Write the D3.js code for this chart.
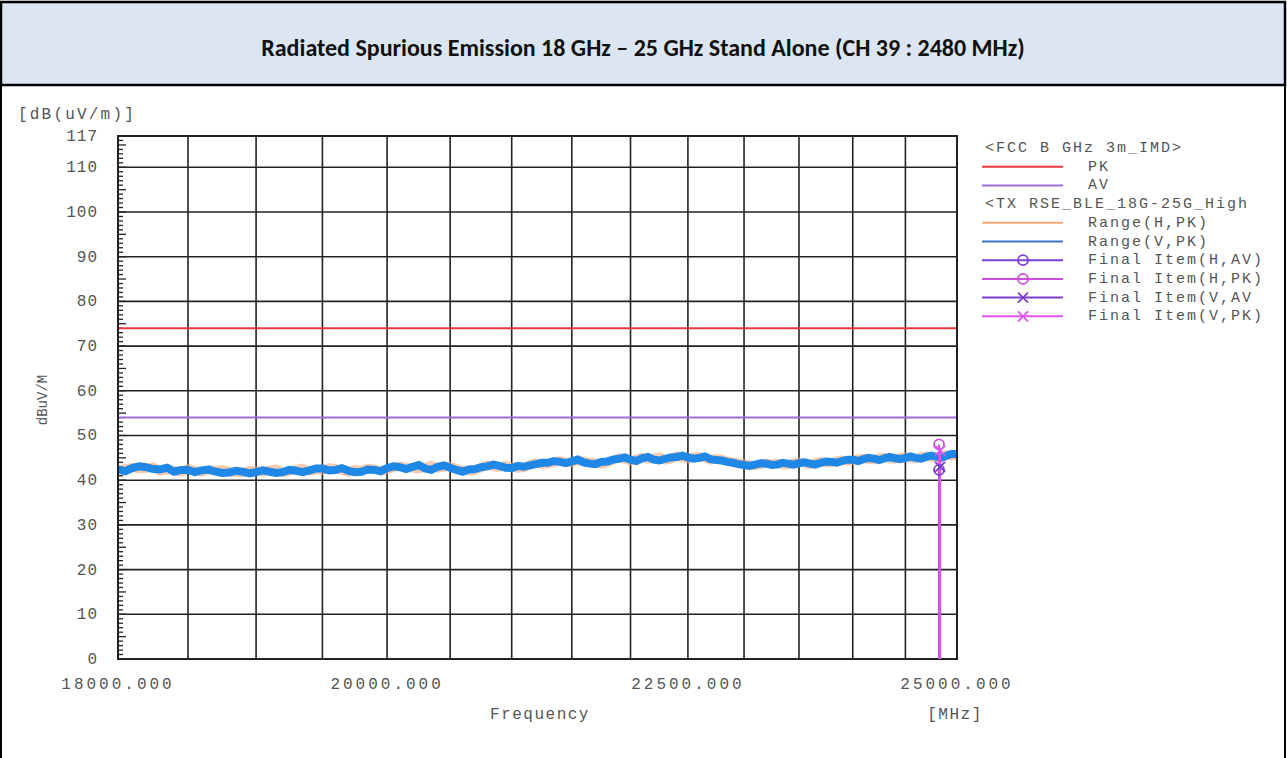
<!DOCTYPE html>
<meta charset="utf-8">
<style>
body { margin: 0; background: #fff; }
text { font-family: "Liberation Mono", "DejaVu Sans Mono", monospace; fill: #555; }
.title { font-family: Carlito, "Liberation Sans Narrow", "Open Sans", sans-serif; font-weight: bold; fill: #111; }
.grid line { stroke: #222; stroke-width: 1.6; }
</style>
<svg width="1287" height="758"></svg>
<script src="https://d3js.org/d3.v7.min.js"></script>
<script>

var titleText = "Radiated Spurious Emission 18 GHz \u2013 25 GHz Stand Alone (CH 39 : 2480 MHz)";

// limit lines (dBuV/m)
var limitNames = ["PK", "AV"];
var limitValues = [74, 54];

// x ticks / grid
var xLabelTicks = [18000, 20000, 22500, 25000];
var xGridTicks = [18500, 19000, 19500, 20000, 20500, 21000, 21500, 22000, 22500, 23000, 23500, 24000, 24500];
var yTicks = [0, 10, 20, 30, 40, 50, 60, 70, 80, 90, 100, 110, 117];

// scan traces, read every 50 MHz
var scanFreq = [18000, 18050, 18100, 18150, 18200, 18250, 18300, 18350, 18400, 18450,
  18500, 18550, 18600, 18650, 18700, 18750, 18800, 18850, 18900, 18950,
  19000, 19050, 19100, 19150, 19200, 19250, 19300, 19350, 19400, 19450,
  19500, 19550, 19600, 19650, 19700, 19750, 19800, 19850, 19900, 19950,
  20000, 20050, 20100, 20150, 20200, 20250, 20300, 20350, 20400, 20450,
  20500, 20550, 20600, 20650, 20700, 20750, 20800, 20850, 20900, 20950,
  21000, 21050, 21100, 21150, 21200, 21250, 21300, 21350, 21400, 21450,
  21500, 21550, 21600, 21650, 21700, 21750, 21800, 21850, 21900, 21950,
  22000, 22050, 22100, 22150, 22200, 22250, 22300, 22350, 22400, 22450,
  22500, 22550, 22600, 22650, 22700, 22750, 22800, 22850, 22900, 22950,
  23000, 23050, 23100, 23150, 23200, 23250, 23300, 23350, 23400, 23450,
  23500, 23550, 23600, 23650, 23700, 23750, 23800, 23850, 23900, 23950,
  24000, 24050, 24100, 24150, 24200, 24250, 24300, 24350, 24400, 24450,
  24500, 24550, 24600, 24650, 24700, 24750, 24800, 24850, 24900, 24950, 25000];
var rangeV = [42.4, 42.0, 42.7, 43.1, 42.9, 42.5, 42.4, 42.8, 41.9, 42.3,
  42.3, 41.8, 42.2, 42.4, 41.9, 41.6, 41.7, 42.1, 41.9, 41.5,
  41.8, 42.2, 41.9, 41.6, 41.8, 42.3, 42.1, 41.8, 42.2, 42.6,
  42.6, 42.2, 42.3, 42.7, 42.1, 41.8, 41.9, 42.4, 42.3, 42.0,
  42.7, 43.1, 42.9, 42.5, 43.0, 43.4, 42.6, 42.3, 43.0, 43.3,
  42.8, 42.3, 41.9, 42.4, 42.5, 42.9, 43.1, 43.5, 43.2, 42.8,
  42.7, 43.2, 43.0, 43.3, 43.6, 43.9, 43.9, 44.3, 44.1, 43.8,
  44.2, 44.6, 44.0, 43.7, 43.6, 44.1, 44.2, 44.6, 44.8, 45.1,
  44.6, 44.3, 44.9, 45.2, 44.6, 44.4, 44.8, 45.1, 45.2, 45.5,
  45.1, 44.8, 45.0, 45.3, 44.7, 44.5, 44.4, 44.1, 43.9, 43.6,
  43.4, 43.2, 43.5, 43.8, 43.7, 43.4, 43.5, 43.9, 43.7, 43.5,
  43.8, 44.0, 43.7, 43.5, 43.9, 44.2, 44.1, 43.9, 44.3, 44.6,
  44.6, 44.3, 44.7, 45.0, 44.8, 44.5, 44.9, 45.2, 44.9, 44.7,
  45.0, 45.3, 45.0, 44.8, 45.2, 45.5, 45.2, 45.0, 45.5, 45.9, 45.8];
var rangeH = [42.1, 42.6, 42.9, 42.5, 42.6, 43.0, 42.0, 42.3, 42.2, 41.8,
  42.6, 42.2, 41.8, 42.3, 42.2, 42.4, 42.0, 41.7, 41.6, 42.2,
  42.1, 41.8, 42.3, 42.5, 41.7, 42.0, 42.4, 42.7, 42.0, 42.3,
  42.3, 42.8, 42.6, 42.2, 41.8, 42.4, 42.2, 42.7, 42.5, 42.2,
  42.4, 42.8, 43.2, 42.9, 42.7, 42.5, 42.9, 43.3, 42.7, 42.9,
  43.1, 42.6, 42.3, 42.0, 42.2, 42.8, 43.4, 43.0, 42.9, 43.3,
  43.0, 42.7, 42.8, 43.5, 43.9, 43.5, 43.6, 44.0, 44.4, 44.1,
  43.9, 44.3, 44.3, 44.0, 43.9, 43.6, 43.9, 44.5, 45.0, 44.7,
  44.3, 44.8, 45.1, 44.7, 44.9, 45.2, 44.5, 44.7, 45.4, 45.0,
  44.8, 45.2, 45.3, 44.9, 44.5, 44.9, 44.7, 44.3, 44.1, 43.9,
  43.7, 43.5, 43.2, 43.6, 43.9, 43.7, 43.8, 43.5, 43.4, 43.9,
  44.1, 43.8, 43.5, 43.9, 44.2, 43.9, 43.9, 44.3, 44.5, 44.2,
  44.4, 44.8, 44.9, 44.6, 44.6, 45.0, 45.1, 44.8, 44.7, 45.1,
  45.2, 44.9, 44.8, 45.2, 45.4, 45.1, 45.0, 45.4, 45.7, 45.4, 45.6];

// final measurement items
var finalNames = ["Final Item(H,AV)", "Final Item(H,PK)", "Final Item(V,AV", "Final Item(V,PK)"];
var finalFreq = [24825, 24825, 24835, 24835];
var finalLevel = [42.3, 48.0, 43.0, 46.6];

var svg = d3.select("svg");

// frame + title bar
svg.append("rect").attr("x", 1).attr("y", 2).attr("width", 1284).attr("height", 83)
    .attr("fill", "#dce6f2").attr("stroke", "#000").attr("stroke-width", 2.5);
svg.append("line").attr("x1", 1).attr("x2", 1).attr("y1", 85).attr("y2", 758).attr("stroke", "#000").attr("stroke-width", 2);
svg.append("line").attr("x1", 1285).attr("x2", 1285).attr("y1", 85).attr("y2", 758).attr("stroke", "#000").attr("stroke-width", 2);
svg.append("text").attr("class", "title").attr("x", 643).attr("y", 56)
    .attr("text-anchor", "middle").style("font-size", "24px").text(titleText);

var x = d3.scaleLog().domain([18000, 25000]).range([118, 957]);
var y = d3.scaleLinear().domain([0, 117]).range([659, 136]);

var colors = {
  PK: "#e8383d", AV: "#9b6be8", H: "#f5a878", V: "#1f88e6",
  HAV: "#7a3fd0", HPK: "#cc4fdc", VAV: "#7a3fd0", VPK: "#dd55ee"
};
var finalColors = [colors.HAV, colors.HPK, colors.VAV, colors.VPK];
var finalShapes = ["circle", "circle", "cross", "cross"];

// grid
var grid = svg.append("g").attr("class", "grid");
grid.selectAll(".v").data(xGridTicks).enter().append("line")
    .attr("x1", d => x(d)).attr("x2", d => x(d)).attr("y1", y(117)).attr("y2", y(0));
grid.selectAll(".h").data(yTicks.filter(d => d > 0 && d < 117)).enter().append("line")
    .attr("x1", x(18000)).attr("x2", x(25000)).attr("y1", d => y(d)).attr("y2", d => y(d));

// minor y ticks
svg.append("g").selectAll("line").data(d3.range(1, 117)).enter().append("line")
    .attr("x1", x(18000)).attr("x2", d => x(18000) + (d % 5 === 0 ? 8 : 5))
    .attr("y1", d => y(d)).attr("y2", d => y(d))
    .attr("stroke", "#222").attr("stroke-width", 1.3);

// limit lines
svg.append("g").selectAll("line").data(limitValues).enter().append("line")
    .attr("x1", x(18000)).attr("x2", x(25000)).attr("y1", d => y(d)).attr("y2", d => y(d))
    .attr("stroke", (d, i) => colors[limitNames[i]]).attr("stroke-width", 2);

// traces
var line = d3.line().x(d => x(d[0])).y(d => y(d[1]));
svg.append("path").datum(d3.zip(scanFreq, rangeH)).attr("d", line)
    .attr("fill", "none").attr("stroke", colors.H).attr("stroke-width", 9).attr("stroke-opacity", 0.6);
svg.append("path").datum(d3.zip(scanFreq, rangeV)).attr("d", line)
    .attr("fill", "none").attr("stroke", colors.V).attr("stroke-width", 8)
    .attr("stroke-linejoin", "miter");

// plot border
svg.append("rect").attr("x", x(18000)).attr("y", y(117))
    .attr("width", x(25000) - x(18000)).attr("height", y(0) - y(117))
    .attr("fill", "none").attr("stroke", "#222").attr("stroke-width", 2);

// final items: stems then markers
function drawMarker(g, shape, cx, cy, col) {
  if (shape === "circle") {
    g.append("circle").attr("cx", cx).attr("cy", cy).attr("r", 5)
        .attr("fill", "none").attr("stroke", col).attr("stroke-width", 1.8);
  } else {
    g.append("path").attr("d", "M" + (cx - 5) + "," + (cy - 5) + "L" + (cx + 5) + "," + (cy + 5) +
        "M" + (cx - 5) + "," + (cy + 5) + "L" + (cx + 5) + "," + (cy - 5))
        .attr("stroke", col).attr("stroke-width", 1.8);
  }
}
var fin = svg.append("g");
finalLevel.forEach(function(v, i) {
  fin.append("line").attr("x1", x(finalFreq[i])).attr("x2", x(finalFreq[i]))
      .attr("y1", y(v)).attr("y2", y(0)).attr("stroke", finalColors[i]).attr("stroke-width", 2);
});
finalLevel.forEach(function(v, i) {
  drawMarker(fin, finalShapes[i], x(finalFreq[i]), y(v), finalColors[i]);
});

// axis labels
svg.append("g").selectAll("text").data(yTicks).enter().append("text")
    .attr("x", 98).attr("y", d => y(d) + 5).attr("text-anchor", "end")
    .style("font-size", "16px").style("letter-spacing", "1px").text(d => d);
svg.append("g").selectAll("text").data(xLabelTicks).enter().append("text")
    .attr("x", d => x(d)).attr("y", 689).attr("text-anchor", "middle")
    .style("font-size", "16px").style("letter-spacing", "3px").text(d3.format(".3f"));
svg.append("text").attr("x", 18).attr("y", 119).style("font-size", "16px").style("letter-spacing", "2.2px").text("[dB(uV/m)]");
svg.append("text").attr("x", 540).attr("y", 719).attr("text-anchor", "middle")
    .style("font-size", "16px").style("letter-spacing", "1.5px").text("Frequency");
svg.append("text").attr("x", 955).attr("y", 719).attr("text-anchor", "middle")
    .style("font-size", "16px").style("letter-spacing", "1.5px").text("[MHz]");
svg.append("text").attr("transform", "translate(47,400) rotate(-90)").attr("text-anchor", "middle")
    .style("font-size", "14px").text("dBuV/M");

// legend
var legendRows = [
  { label: "<FCC B GHz 3m_IMD>", header: true },
  { label: "PK", color: colors.PK },
  { label: "AV", color: colors.AV },
  { label: "<TX RSE_BLE_18G-25G_High", header: true },
  { label: "Range(H,PK)", color: colors.H },
  { label: "Range(V,PK)", color: "#3a6fc4" }
].concat(finalNames.map((n, i) => ({ label: n, color: finalColors[i], shape: finalShapes[i] })));

var lg = svg.append("g");
legendRows.forEach(function(r, i) {
  var ry = 148 + i * 18.7;
  if (r.header) {
    lg.append("text").attr("x", 985).attr("y", ry + 4).style("font-size", "15px")
        .style("letter-spacing", "2px").text(r.label);
  } else {
    lg.append("line").attr("x1", 982).attr("x2", 1063).attr("y1", ry).attr("y2", ry)
        .attr("stroke", r.color).attr("stroke-width", 2);
    if (r.shape) drawMarker(lg, r.shape, 1023, ry, r.color);
    lg.append("text").attr("x", 1088).attr("y", ry + 4).style("font-size", "15px")
        .style("letter-spacing", "2px").text(r.label);
  }
});

</script>
